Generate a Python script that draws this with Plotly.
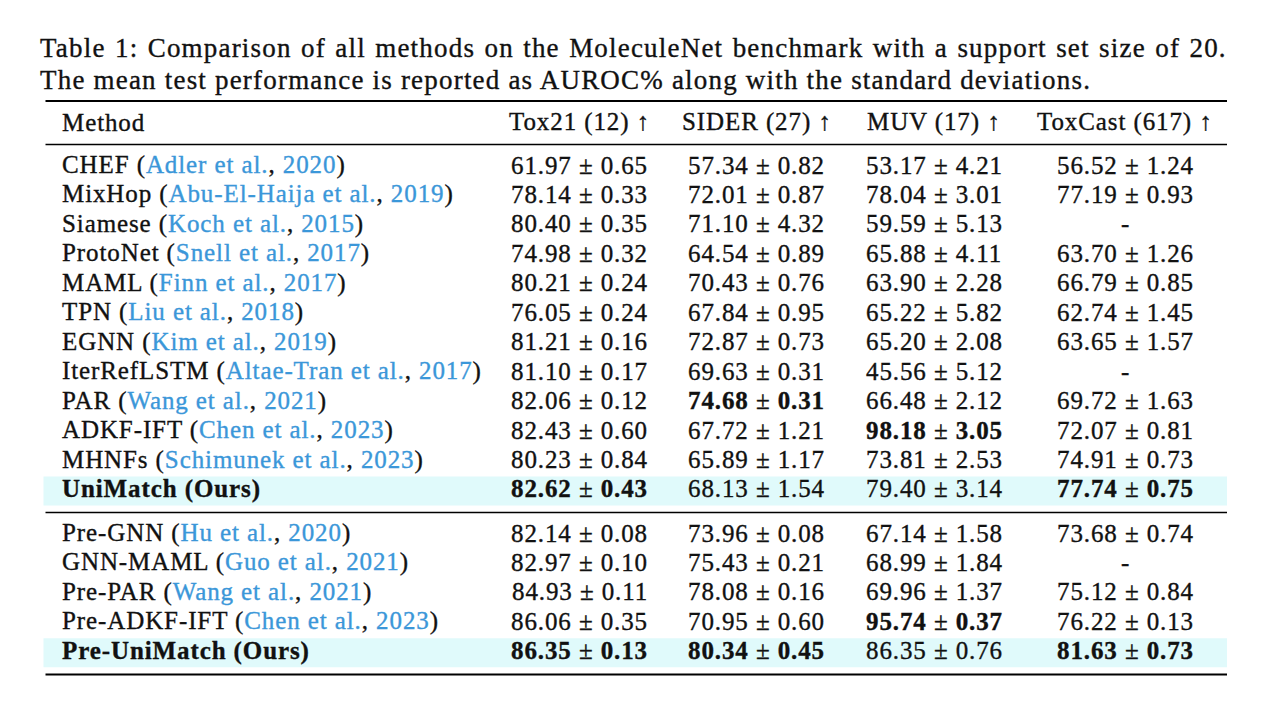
import plotly.graph_objects as go

# ---------------- data ----------------
caption_lines = [
    "Table 1: Comparison of all methods on the MoleculeNet benchmark with a support set size of 20.",
    "The mean test performance is reported as AUROC% along with the standard deviations.",
]
col_headers = ["Tox21 (12) ↑", "SIDER (27) ↑", "MUV (17) ↑", "ToxCast (617) ↑"]

methods_a = ["CHEF", "MixHop", "Siamese", "ProtoNet", "MAML", "TPN", "EGNN",
             "IterRefLSTM", "PAR", "ADKF-IFT", "MHNFs", "UniMatch (Ours)"]
authors_a = ["Adler et al.", "Abu-El-Haija et al.", "Koch et al.", "Snell et al.",
             "Finn et al.", "Liu et al.", "Kim et al.", "Altae-Tran et al.",
             "Wang et al.", "Chen et al.", "Schimunek et al.", None]
years_a = ["2020", "2019", "2015", "2017", "2017", "2018", "2019", "2017",
           "2021", "2023", "2023", None]

methods_b = ["Pre-GNN", "GNN-MAML", "Pre-PAR", "Pre-ADKF-IFT", "Pre-UniMatch (Ours)"]
authors_b = ["Hu et al.", "Guo et al.", "Wang et al.", "Chen et al.", None]
years_b = ["2020", "2021", "2021", "2023", None]

tox21_mean = ["61.97", "78.14", "80.40", "74.98", "80.21", "76.05", "81.21", "81.10", "82.06", "82.43", "80.23", "82.62",
              "82.14", "82.97", "84.93", "86.06", "86.35"]
tox21_std = ["0.65", "0.33", "0.35", "0.32", "0.24", "0.24", "0.16", "0.17", "0.12", "0.60", "0.84", "0.43",
             "0.08", "0.10", "0.11", "0.35", "0.13"]
sider_mean = ["57.34", "72.01", "71.10", "64.54", "70.43", "67.84", "72.87", "69.63", "74.68", "67.72", "65.89", "68.13",
              "73.96", "75.43", "78.08", "70.95", "80.34"]
sider_std = ["0.82", "0.87", "4.32", "0.89", "0.76", "0.95", "0.73", "0.31", "0.31", "1.21", "1.17", "1.54",
             "0.08", "0.21", "0.16", "0.60", "0.45"]
muv_mean = ["53.17", "78.04", "59.59", "65.88", "63.90", "65.22", "65.20", "45.56", "66.48", "98.18", "73.81", "79.40",
            "67.14", "68.99", "69.96", "95.74", "86.35"]
muv_std = ["4.21", "3.01", "5.13", "4.11", "2.28", "5.82", "2.08", "5.12", "2.12", "3.05", "2.53", "3.14",
           "1.58", "1.84", "1.37", "0.37", "0.76"]
toxcast_mean = ["56.52", "77.19", None, "63.70", "66.79", "62.74", "63.65", None, "69.72", "72.07", "74.91", "77.74",
                "73.68", None, "75.12", "76.22", "81.63"]
toxcast_std = ["1.24", "0.93", None, "1.26", "0.85", "1.45", "1.57", None, "1.63", "0.81", "0.73", "0.75",
               "0.74", None, "0.84", "0.13", "0.73"]
# bold (best) flags per column
tox21_bold = [11, 16]
sider_bold = [8, 16]
muv_bold = [9, 15]
toxcast_bold = [11, 16]
ours_rows = [11, 16]

# ---------------- styling ----------------
FONT = "Liberation Serif"
FS = 25
CAP_FS = 27
BLACK = "#111111"
BLUE = "#3b97d9"
BAND = "#e0fafb"
STROKE = 0.35

def sp(t, color=BLACK, ls=0.9, extra=""):
    st = ("letter-spacing:%spx;color:%s;stroke:%s;stroke-width:%spx" % (ls, color, color, STROKE)) + extra
    return "<span style='" + st + "'>" + t + "</span>"

def cell(m, s, bold):
    if m is None:
        return sp("-")
    if bold:
        return "<b>" + sp(m) + "</b>" + sp(" ± ") + "<b>" + sp(s) + "</b>"
    return sp(m + " ± " + s)

def method_text(name, author, year, ours):
    if ours:
        return "<b>" + sp(name) + "</b>"
    return (sp(name + " (") + sp(author, BLUE) + sp(", ") + sp(year, BLUE) + sp(")"))

methods = methods_a + methods_b
authors = authors_a + authors_b
years = years_a + years_b

# layout positions (page-pixel data coordinates; page body has an 8px margin)
PAGE_W, PAGE_H, BODY_M = 1284, 705, 8
row_step = 29.45
row_y = [165 + row_step * i for i in range(len(methods_a))] + \
        [533 + row_step * j for j in range(len(methods_b))]
x_method = 60
col_x = [579.5, 756.5, 934, 1125]
x_left, x_right = 45.5, 1227

fig = go.Figure()
fig.add_trace(go.Scatter(x=[BODY_M, PAGE_W - BODY_M], y=[BODY_M, PAGE_H - BODY_M], mode="markers",
                         marker=dict(opacity=0), hoverinfo="skip", showlegend=False))

shapes = []
for r in ours_rows:
    shapes.append(dict(type="rect", xref="x", yref="y", x0=x_left - 2, x1=x_right,
                       y0=row_y[r] - 12.5, y1=row_y[r] + 16.5,
                       fillcolor=BAND, line=dict(width=0), layer="below"))
for yy, w in [(101, 2.2), (144.5, 1.3), (512.5, 1.3), (674.5, 2.2)]:
    shapes.append(dict(type="line", xref="x", yref="y", x0=x_left, x1=x_right,
                       y0=yy, y1=yy, line=dict(color="black", width=w)))

ann = []
def add(x, y, text, anchor="left", size=FS):
    ann.append(dict(x=x, y=y, xref="x", yref="y", text=text, showarrow=False,
                    xanchor=anchor, yanchor="middle",
                    font=dict(family=FONT, size=size, color=BLACK)))

# caption
add(38, 48, sp(caption_lines[0], ls=1.2, extra=";word-spacing:1.4px"), size=CAP_FS)
add(38, 80, sp(caption_lines[1], ls=1.2), size=CAP_FS)

# header
add(x_method, 122, sp("Method"))
for cx, h in zip(col_x, col_headers):
    add(cx, 122, sp(h), "center")

cols = [(tox21_mean, tox21_std, tox21_bold), (sider_mean, sider_std, sider_bold),
        (muv_mean, muv_std, muv_bold), (toxcast_mean, toxcast_std, toxcast_bold)]
for i, (mname, au, yr) in enumerate(zip(methods, authors, years)):
    add(x_method, row_y[i], method_text(mname, au, yr, i in ours_rows))
    for cx, (mm, ss, bb) in zip(col_x, cols):
        add(cx, row_y[i], cell(mm[i], ss[i], i in bb), "center")

fig.update_layout(
    width=PAGE_W - 2 * BODY_M, height=PAGE_H - 2 * BODY_M, margin=dict(l=0, r=0, t=0, b=0),
    paper_bgcolor="white", plot_bgcolor="white",
    xaxis=dict(range=[BODY_M, PAGE_W - BODY_M], visible=False, fixedrange=True),
    yaxis=dict(range=[PAGE_H - BODY_M, BODY_M], visible=False, fixedrange=True),
    shapes=shapes, annotations=ann, showlegend=False,
)
fig.write_html("out.html", config={"displayModeBar": False})
